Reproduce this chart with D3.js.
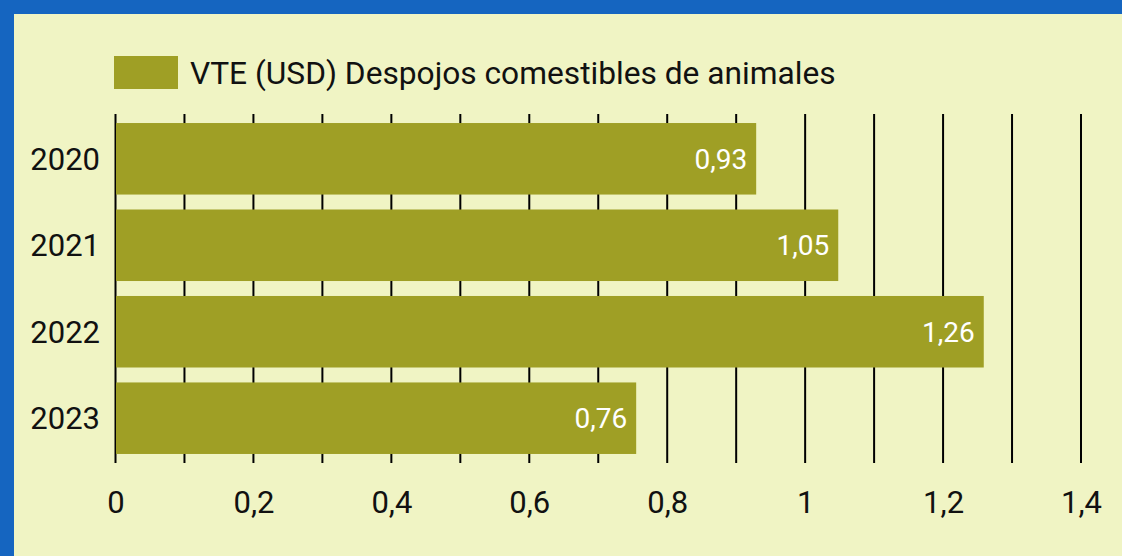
<!DOCTYPE html>
<html>
<head>
<meta charset="utf-8">
<script src="https://cdn.jsdelivr.net/npm/d3@7"></script>
<style>
  html, body { margin: 0; padding: 0; background: #1565c0; }
  svg { display: block; font-family: Roboto, "Noto Sans", sans-serif; }
</style>
</head>
<body>
<script>
var years = ["2020", "2021", "2022", "2023"];
var values = [0.929, 1.048, 1.259, 0.755];
var seriesName = "VTE (USD) Despojos comestibles de animales";
var gridTicks = d3.range(0, 15).map(function(i) { return i / 10; });
var labelTicks = [0, 0.2, 0.4, 0.6, 0.8, 1, 1.2, 1.4];

var svgWidth = 1122;
var svgHeight = 556;
var border = 14;
var barColor = "#9f9f25";

var esLocale = d3.formatLocale({ decimal: ",", thousands: ".", grouping: [3], currency: ["", ""] });
var fmt = esLocale.format("~g");
var valFmt = esLocale.format(".2f");

var svg = d3.select("body")
  .append("svg")
  .attr("width", svgWidth)
  .attr("height", svgHeight);

// background panel
svg.append("rect")
  .attr("x", border)
  .attr("y", border)
  .attr("width", svgWidth - border)
  .attr("height", svgHeight - border)
  .attr("fill", "#f0f4c4");

var xScale = d3.scaleLinear()
  .domain([0, 1.4])
  .range([115.5, 1081]);

var yScale = d3.scaleBand()
  .domain(years)
  .range([113, 464])
  .paddingInner(0.173)
  .paddingOuter(0.116);

// vertical grid lines
svg.selectAll(".grid")
  .data(gridTicks)
  .enter()
  .append("line")
  .attr("class", "grid")
  .attr("x1", function(d) { return xScale(d); })
  .attr("x2", function(d) { return xScale(d); })
  .attr("y1", 114)
  .attr("y2", 463)
  .attr("stroke", "#000")
  .attr("stroke-width", 2);

// bars
svg.selectAll(".bar")
  .data(values)
  .enter()
  .append("rect")
  .attr("class", "bar")
  .attr("x", xScale(0) + 0.5)
  .attr("y", function(d, i) { return yScale(years[i]); })
  .attr("width", function(d) { return xScale(d) - xScale(0) - 0.5; })
  .attr("height", yScale.bandwidth())
  .attr("fill", barColor);

// value labels
svg.selectAll(".val")
  .data(values)
  .enter()
  .append("text")
  .attr("class", "val")
  .attr("x", function(d) { return xScale(d) - 9; })
  .attr("y", function(d, i) { return yScale(years[i]) + yScale.bandwidth() / 2; })
  .attr("dy", "0.36em")
  .attr("text-anchor", "end")
  .attr("fill", "#fff")
  .style("font-size", "28px")
  .text(function(d) { return valFmt(d); });

// y axis labels
svg.append("g")
  .attr("transform", "translate(100,0)")
  .call(d3.axisLeft(yScale).tickSize(0).tickPadding(0))
  .call(function(g) {
    g.select(".domain").remove();
    g.selectAll("text")
      .style("font-size", "31px")
      .style("font-family", "Roboto, sans-serif")
      .attr("fill", "#111")
      .attr("dy", "0.36em");
  });

// x axis labels
svg.append("g")
  .attr("transform", "translate(0,463)")
  .call(d3.axisBottom(xScale).tickValues(labelTicks).tickSize(0).tickPadding(0).tickFormat(fmt))
  .call(function(g) {
    g.select(".domain").remove();
    g.selectAll("text")
      .style("font-size", "31px")
      .style("font-family", "Roboto, sans-serif")
      .attr("fill", "#111")
      .attr("y", 39)
      .attr("dy", "0.36em");
  });

// legend
svg.append("rect")
  .attr("x", 114)
  .attr("y", 56)
  .attr("width", 64)
  .attr("height", 33)
  .attr("fill", barColor);

svg.append("text")
  .attr("x", 190)
  .attr("y", 73)
  .attr("dy", "0.36em")
  .attr("fill", "#111")
  .style("font-size", "31.7px")
  .text(seriesName);
</script>
</body>
</html>
